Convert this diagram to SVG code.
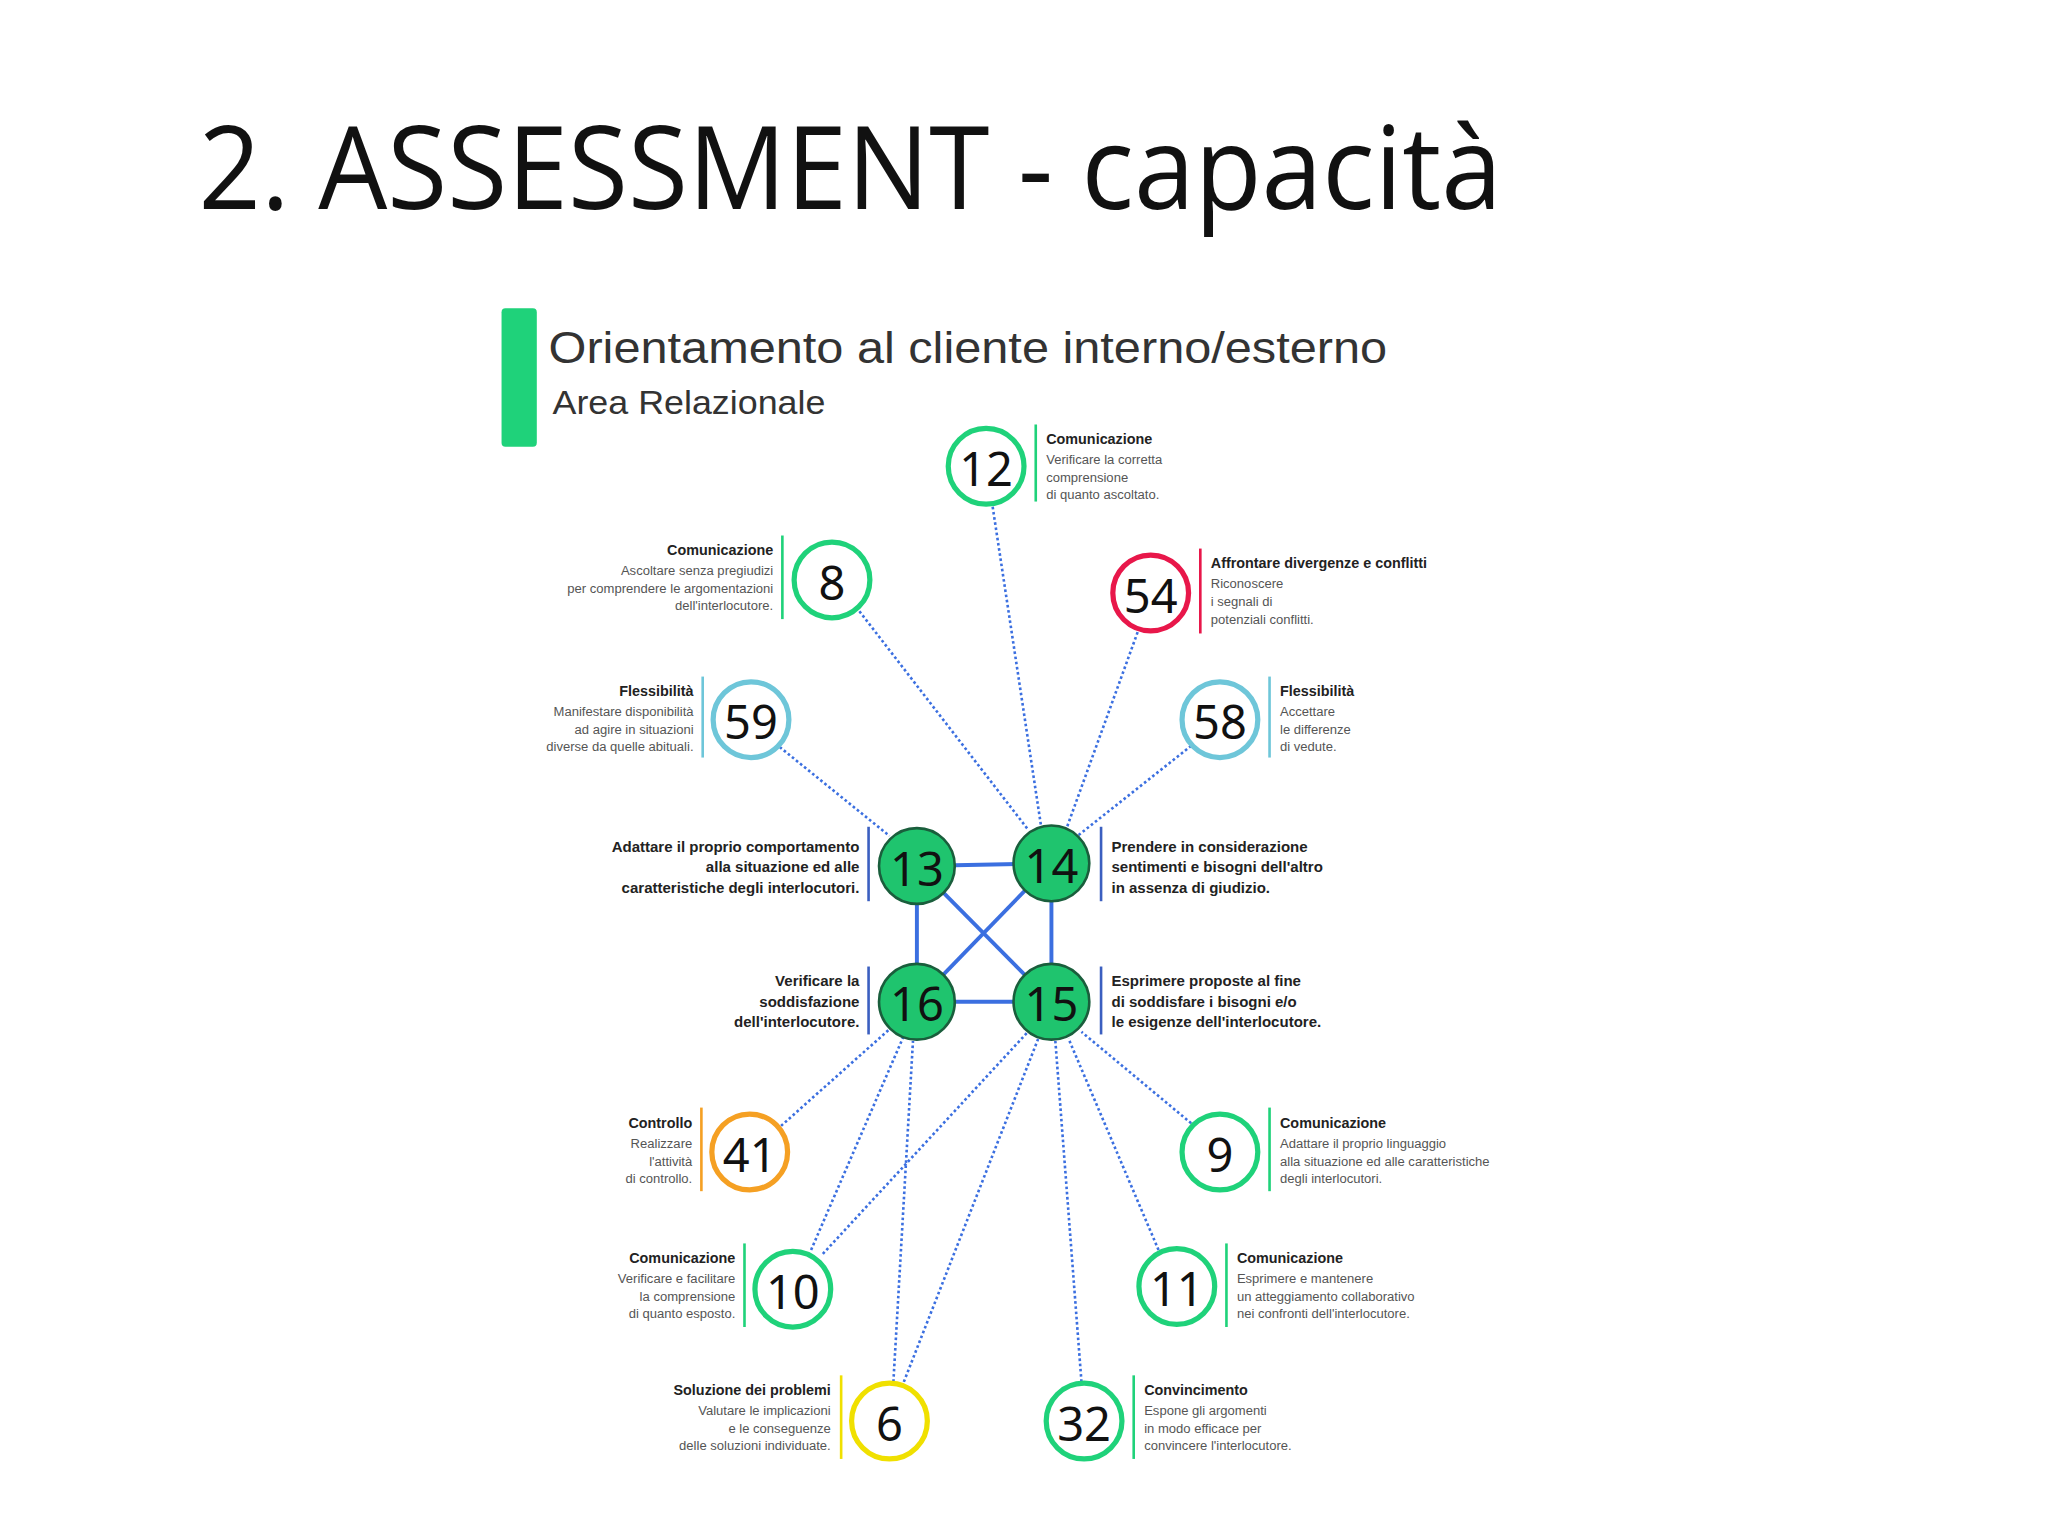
<svg xmlns="http://www.w3.org/2000/svg" width="2048" height="1536" viewBox="0 0 2048 1536">
<style>
.t{font-family:"Liberation Sans",Arial,sans-serif;font-size:11px;font-weight:bold;fill:#222}
.b{font-family:"Liberation Sans",Arial,sans-serif;font-size:10px;fill:#555}
.bb{font-family:"Liberation Sans",Arial,sans-serif;font-size:11.5px;font-weight:bold;fill:#222}
.n{font-family:"Noto Sans",sans-serif;font-size:36px;fill:#111;text-anchor:middle}
.c{fill:#fff;stroke-width:4}
.f{fill:#1fc46e;stroke:#1a5e3c;stroke-width:2}
.dot{stroke:#3b6fe0;stroke-width:2;stroke-dasharray:2 2;fill:none}
.sol{stroke:#3b6fe0;stroke-width:3;fill:none}
.sep{stroke-width:2}
</style>
<rect width="2048" height="1536" fill="#fff"/>
<g transform="scale(1.30612)">
<text x="152" y="160" font-family="'Open Sans','Noto Sans',sans-serif" font-size="88" fill="#111" textLength="998" lengthAdjust="spacingAndGlyphs">2. ASSESSMENT - capacità</text>
<rect x="384" y="236" width="27" height="106" rx="3" fill="#1fd27a"/>
<text x="420" y="278" font-family="'Liberation Sans',sans-serif" font-size="34" fill="#333" textLength="642" lengthAdjust="spacingAndGlyphs">Orientamento al cliente interno/esterno</text>
<text x="423" y="317" font-family="'Liberation Sans',sans-serif" font-size="26" fill="#333" textLength="209" lengthAdjust="spacingAndGlyphs">Area Relazionale</text>
<g id="connectors">
<line class="sol" x1="702" y1="663" x2="805" y2="661"/>
<line class="sol" x1="702" y1="663" x2="702" y2="767"/>
<line class="sol" x1="805" y1="661" x2="805" y2="767"/>
<line class="sol" x1="702" y1="767" x2="805" y2="767"/>
<line class="sol" x1="702" y1="663" x2="805" y2="767"/>
<line class="sol" x1="805" y1="661" x2="702" y2="767"/>
<line class="dot" x1="760" y1="388" x2="797" y2="632"/>
<line class="dot" x1="658" y1="468" x2="787" y2="635"/>
<line class="dot" x1="871" y1="484" x2="817" y2="633"/>
<line class="dot" x1="912" y1="571" x2="825" y2="640"/>
<line class="dot" x1="597" y1="572" x2="681" y2="640"/>
<line class="dot" x1="598" y1="862" x2="681" y2="788"/>
<line class="dot" x1="621" y1="957" x2="692" y2="793"/>
<line class="dot" x1="630" y1="960" x2="787" y2="790"/>
<line class="dot" x1="684" y1="1058" x2="699" y2="797"/>
<line class="dot" x1="692" y1="1058" x2="795" y2="795"/>
<line class="dot" x1="828" y1="1058" x2="808" y2="797"/>
<line class="dot" x1="887" y1="957" x2="818" y2="795"/>
<line class="dot" x1="912" y1="860" x2="828" y2="790"/>
</g>
<g id="n13"><circle class="f" cx="702" cy="663" r="29"/><text class="n" x="702" y="678">13</text>
<line class="sep" stroke="#3b5fc0" x1="665" y1="633" x2="665" y2="690"/>
<text class="bb" text-anchor="end" x="658" y="652">Adattare il proprio comportamento</text><text class="bb" text-anchor="end" x="658" y="668">alla situazione ed alle</text><text class="bb" text-anchor="end" x="658" y="684">caratteristiche degli interlocutori.</text></g>
<g id="n14"><circle class="f" cx="805" cy="661" r="29"/><text class="n" x="805" y="676">14</text>
<line class="sep" stroke="#3b5fc0" x1="843" y1="633" x2="843" y2="690"/>
<text class="bb" x="851" y="652">Prendere in considerazione</text><text class="bb" x="851" y="668">sentimenti e bisogni dell'altro</text><text class="bb" x="851" y="684">in assenza di giudizio.</text></g>
<g id="n16"><circle class="f" cx="702" cy="767" r="29"/><text class="n" x="702" y="782">16</text>
<line class="sep" stroke="#3b5fc0" x1="665" y1="740" x2="665" y2="792"/>
<text class="bb" text-anchor="end" x="658" y="755">Verificare la</text><text class="bb" text-anchor="end" x="658" y="771">soddisfazione</text><text class="bb" text-anchor="end" x="658" y="786">dell'interlocutore.</text></g>
<g id="n15"><circle class="f" cx="805" cy="767" r="29"/><text class="n" x="805" y="782">15</text>
<line class="sep" stroke="#3b5fc0" x1="843" y1="740" x2="843" y2="792"/>
<text class="bb" x="851" y="755">Esprimere proposte al fine</text><text class="bb" x="851" y="771">di soddisfare i bisogni e/o</text><text class="bb" x="851" y="786">le esigenze dell'interlocutore.</text></g>
<g id="n12"><circle class="c" stroke="#1fd27a" cx="755" cy="357" r="29"/><text class="n" x="755" y="372">12</text>
<line class="sep" stroke="#1fd27a" x1="793" y1="325" x2="793" y2="384"/>
<text class="t" x="801" y="340">Comunicazione</text><text class="b" x="801" y="355">Verificare la corretta</text><text class="b" x="801" y="369">comprensione</text><text class="b" x="801" y="382">di quanto ascoltato.</text></g>
<g id="n8"><circle class="c" stroke="#1fd27a" cx="637" cy="444" r="29"/><text class="n" x="637" y="459">8</text>
<line class="sep" stroke="#1fd27a" x1="599" y1="410" x2="599" y2="474"/>
<text class="t" text-anchor="end" x="592" y="425">Comunicazione</text><text class="b" text-anchor="end" x="592" y="440">Ascoltare senza pregiudizi</text><text class="b" text-anchor="end" x="592" y="454">per comprendere le argomentazioni</text><text class="b" text-anchor="end" x="592" y="467">dell'interlocutore.</text></g>
<g id="n54"><circle class="c" stroke="#e8174a" cx="881" cy="454" r="29"/><text class="n" x="881" y="469">54</text>
<line class="sep" stroke="#e8174a" x1="919" y1="420" x2="919" y2="485"/>
<text class="t" x="927" y="435">Affrontare divergenze e conflitti</text><text class="b" x="927" y="450">Riconoscere</text><text class="b" x="927" y="464">i segnali di</text><text class="b" x="927" y="478">potenziali conflitti.</text></g>
<g id="n59"><circle class="c" stroke="#6ec6d9" cx="575" cy="551" r="29"/><text class="n" x="575" y="566">59</text>
<line class="sep" stroke="#6ec6d9" x1="538" y1="518" x2="538" y2="580"/>
<text class="t" text-anchor="end" x="531" y="533">Flessibilità</text><text class="b" text-anchor="end" x="531" y="548">Manifestare disponibilità</text><text class="b" text-anchor="end" x="531" y="562">ad agire in situazioni</text><text class="b" text-anchor="end" x="531" y="575">diverse da quelle abituali.</text></g>
<g id="n58"><circle class="c" stroke="#6ec6d9" cx="934" cy="551" r="29"/><text class="n" x="934" y="566">58</text>
<line class="sep" stroke="#6ec6d9" x1="972" y1="518" x2="972" y2="580"/>
<text class="t" x="980" y="533">Flessibilità</text><text class="b" x="980" y="548">Accettare</text><text class="b" x="980" y="562">le differenze</text><text class="b" x="980" y="575">di vedute.</text></g>
<g id="n41"><circle class="c" stroke="#f5a023" cx="574" cy="882" r="29"/><text class="n" x="574" y="897">41</text>
<line class="sep" stroke="#f5a023" x1="537" y1="848" x2="537" y2="912"/>
<text class="t" text-anchor="end" x="530" y="864">Controllo</text><text class="b" text-anchor="end" x="530" y="879">Realizzare</text><text class="b" text-anchor="end" x="530" y="893">l'attività</text><text class="b" text-anchor="end" x="530" y="906">di controllo.</text></g>
<g id="n9"><circle class="c" stroke="#1fd27a" cx="934" cy="882" r="29"/><text class="n" x="934" y="897">9</text>
<line class="sep" stroke="#1fd27a" x1="972" y1="848" x2="972" y2="912"/>
<text class="t" x="980" y="864">Comunicazione</text><text class="b" x="980" y="879">Adattare il proprio linguaggio</text><text class="b" x="980" y="893">alla situazione ed alle caratteristiche</text><text class="b" x="980" y="906">degli interlocutori.</text></g>
<g id="n10"><circle class="c" stroke="#1fd27a" cx="607" cy="987" r="29"/><text class="n" x="607" y="1002">10</text>
<line class="sep" stroke="#1fd27a" x1="570" y1="952" x2="570" y2="1016"/>
<text class="t" text-anchor="end" x="563" y="967">Comunicazione</text><text class="b" text-anchor="end" x="563" y="982">Verificare e facilitare</text><text class="b" text-anchor="end" x="563" y="996">la comprensione</text><text class="b" text-anchor="end" x="563" y="1009">di quanto esposto.</text></g>
<g id="n11"><circle class="c" stroke="#1fd27a" cx="901" cy="985" r="29"/><text class="n" x="901" y="1000">11</text>
<line class="sep" stroke="#1fd27a" x1="939" y1="952" x2="939" y2="1016"/>
<text class="t" x="947" y="967">Comunicazione</text><text class="b" x="947" y="982">Esprimere e mantenere</text><text class="b" x="947" y="996">un atteggiamento collaborativo</text><text class="b" x="947" y="1009">nei confronti dell'interlocutore.</text></g>
<g id="n6"><circle class="c" stroke="#f0e000" cx="681" cy="1088" r="29"/><text class="n" x="681" y="1103">6</text>
<line class="sep" stroke="#f0e000" x1="644" y1="1053" x2="644" y2="1117"/>
<text class="t" text-anchor="end" x="636" y="1068">Soluzione dei problemi</text><text class="b" text-anchor="end" x="636" y="1083">Valutare le implicazioni</text><text class="b" text-anchor="end" x="636" y="1097">e le conseguenze</text><text class="b" text-anchor="end" x="636" y="1110">delle soluzioni individuate.</text></g>
<g id="n32"><circle class="c" stroke="#1fd27a" cx="830" cy="1088" r="29"/><text class="n" x="830" y="1103">32</text>
<line class="sep" stroke="#1fd27a" x1="868" y1="1053" x2="868" y2="1117"/>
<text class="t" x="876" y="1068">Convincimento</text><text class="b" x="876" y="1083">Espone gli argomenti</text><text class="b" x="876" y="1097">in modo efficace per</text><text class="b" x="876" y="1110">convincere l'interlocutore.</text></g>
</g>
</svg>
